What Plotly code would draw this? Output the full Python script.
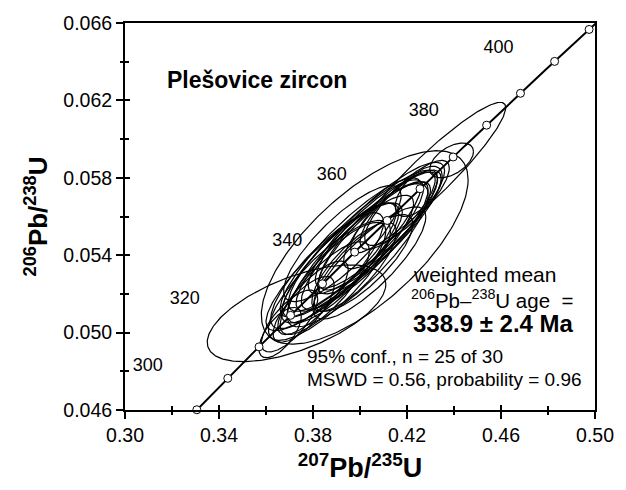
import numpy as np
import plotly.graph_objects as go

# ---- data ----
# error ellipses: centre, half-widths (2 sigma), error correlation
ell_x  = [0.3978, 0.3925, 0.4020, 0.3900, 0.4060, 0.3960, 0.3870, 0.4015, 0.3915, 0.4085,
          0.3850, 0.4000, 0.3975, 0.4040, 0.3890, 0.3925, 0.4040, 0.3990, 0.3860, 0.4070,
          0.3800, 0.3760, 0.3700, 0.3660, 0.3730, 0.4020, 0.4290, 0.4390, 0.4160, 0.4200,
          0.4250, 0.4130]
ell_y  = [0.0541, 0.0539, 0.0545, 0.0531, 0.0549, 0.0544, 0.0527, 0.0536, 0.0536, 0.0553,
          0.0523, 0.0546, 0.0534, 0.0551, 0.0534, 0.0546, 0.0536, 0.0540, 0.0532, 0.0554,
          0.0518, 0.0512, 0.0506, 0.0500, 0.0510, 0.0544, 0.0580, 0.0589, 0.0563, 0.0567,
          0.0573, 0.0558]
ell_sx = [0.025, 0.023, 0.027, 0.021, 0.024, 0.030, 0.026, 0.021, 0.025, 0.026,
          0.019, 0.033, 0.018, 0.023, 0.029, 0.025, 0.024, 0.030, 0.024, 0.029,
          0.015, 0.013, 0.012, 0.009, 0.038, 0.044, 0.033, 0.0093, 0.016, 0.018,
          0.010, 0.020]
ell_sy = [0.0030, 0.0028, 0.0033, 0.0026, 0.0029, 0.0036, 0.0031, 0.0025, 0.0031, 0.0031,
          0.0024, 0.0038, 0.0023, 0.0028, 0.0033, 0.0030, 0.0029, 0.0037, 0.0030, 0.0034,
          0.0019, 0.0017, 0.0016, 0.0013, 0.0025, 0.0050, 0.0039, 0.0009, 0.0020, 0.0022,
          0.0013, 0.0025]
ell_rho = [0.86, 0.84, 0.87, 0.82, 0.85, 0.88, 0.82, 0.80, 0.84, 0.86,
           0.80, 0.89, 0.78, 0.84, 0.86, 0.82, 0.82, 0.85, 0.83, 0.87,
           0.78, 0.74, 0.72, 0.65, 0.60, 0.70, 0.93, 0.50, 0.80, 0.82,
           0.60, 0.84]

# concordia
LAMBDA_238 = 1.55125e-10
LAMBDA_235 = 9.8485e-10
marker_ages = [290, 300, 310, 320, 330, 340, 350, 360, 370, 380, 390, 400, 410]  # Ma
label_ages = [300, 320, 340, 360, 380, 400]
label_x = [0.3097, 0.3254, 0.3690, 0.3880, 0.4271, 0.4589]
label_y = [0.04823, 0.05169, 0.05473, 0.05813, 0.06143, 0.06468]

x_ticks = [0.30, 0.34, 0.38, 0.42, 0.46, 0.50]
y_ticks = [0.046, 0.050, 0.054, 0.058, 0.062, 0.066]

FONT = "Liberation Sans, Arial, sans-serif"

fig = go.Figure()

theta = np.linspace(0, 2 * np.pi, 241)
for cx, cy, sx, sy, r in zip(ell_x, ell_y, ell_sx, ell_sy, ell_rho):
    ex = cx + sx * np.cos(theta)
    ey = cy + sy * (r * np.cos(theta) + np.sqrt(1 - r * r) * np.sin(theta))
    fig.add_trace(go.Scatter(x=ex, y=ey, mode="lines",
                             line=dict(color="black", width=1.2),
                             hoverinfo="skip", showlegend=False))

t_curve = np.linspace(280e6, 420e6, 300)
fig.add_trace(go.Scatter(x=np.exp(LAMBDA_235 * t_curve) - 1,
                         y=np.exp(LAMBDA_238 * t_curve) - 1,
                         mode="lines", line=dict(color="black", width=2),
                         showlegend=False, hoverinfo="skip"))
t_m = np.array(marker_ages) * 1e6
fig.add_trace(go.Scatter(x=np.exp(LAMBDA_235 * t_m) - 1,
                         y=np.exp(LAMBDA_238 * t_m) - 1,
                         mode="markers",
                         marker=dict(symbol="circle", size=8, color="white",
                                     line=dict(color="black", width=1)),
                         showlegend=False, cliponaxis=False, hoverinfo="skip"))

fig.add_trace(go.Scatter(x=label_x, y=label_y, mode="text",
                         text=[str(a) for a in label_ages],
                         textfont=dict(family=FONT, size=18, color="black"),
                         showlegend=False, hoverinfo="skip"))

ann = []
def add_text(x, y, text, size, bold=False, xanchor="left"):
    ann.append(dict(xref="paper", yref="paper", x=x, y=y,
                    text=("<b>%s</b>" % text) if bold else text,
                    showarrow=False, xanchor=xanchor, yanchor="middle",
                    font=dict(family=FONT, size=size, color="black")))

# paper coords: plot area left=125, right=597, top=18, bottom=412
def px(xp): return (xp - 125) / 472.0
def py(yp): return (412 - yp) / 394.0

add_text(px(165), py(76), "Plešovice zircon", 23, bold=True)
add_text(px(412), py(274), "weighted mean", 21)
add_text(px(410), py(299), "<sup>206</sup>Pb–<sup>238</sup>U age  =", 20.5)
add_text(px(412), py(324), "338.9 ± 2.4 Ma", 24, bold=True)
add_text(px(306), py(358), "95% conf., n = 25 of 30", 19)
add_text(px(306), py(381), "MSWD = 0.56, probability = 0.96", 19)

axis_common = dict(showline=True, linecolor="black", linewidth=2, mirror=True,
                   showgrid=False, zeroline=False, ticks="outside", ticklen=7,
                   tickwidth=2, tickcolor="black",
                   tickfont=dict(family=FONT, size=19.5, color="black"))

fig.update_layout(
    width=626, height=490,
    margin=dict(l=125, r=29, t=18, b=78),
    paper_bgcolor="white", plot_bgcolor="white",
    annotations=ann,
    xaxis=dict(range=[0.30, 0.50], tickvals=x_ticks,
               ticktext=["%.2f" % v for v in x_ticks],
               minor=dict(dtick=0.02, tick0=0.30, ticks="outside", ticklen=3,
                          tickwidth=2, tickcolor="black"),
               title=dict(text="<b><sup>207</sup>Pb/<sup>235</sup>U</b>",
                          font=dict(family=FONT, size=27, color="black"), standoff=13),
               **axis_common),
    yaxis=dict(range=[0.046, 0.066], tickvals=y_ticks,
               ticktext=["%.3f" % v for v in y_ticks],
               minor=dict(dtick=0.002, tick0=0.046, ticks="outside", ticklen=3,
                          tickwidth=2, tickcolor="black"),
               title=dict(text="<b><sup>206</sup>Pb/<sup>238</sup>U</b>",
                          font=dict(family=FONT, size=26, color="black"), standoff=8),
               **axis_common),
    xaxis2=dict(overlaying="x", matches="x", anchor="y", side="bottom",
                showline=False, showgrid=False, zeroline=False, showticklabels=False,
                tickvals=x_ticks, ticks="inside", ticklen=5, tickwidth=2, tickcolor="black",
                minor=dict(dtick=0.02, tick0=0.30, ticks="inside", ticklen=4,
                           tickwidth=2, tickcolor="black")),
    yaxis2=dict(overlaying="y", matches="y", anchor="x", side="left",
                showline=False, showgrid=False, zeroline=False, showticklabels=False,
                tickvals=y_ticks, ticks="inside", ticklen=5, tickwidth=2, tickcolor="black",
                minor=dict(dtick=0.002, tick0=0.046, ticks="inside", ticklen=4,
                           tickwidth=2, tickcolor="black")),
)
# an invisible trace on the overlay axes so their inner ticks are drawn
fig.add_trace(go.Scatter(x=[0.40], y=[0.056], xaxis="x2", yaxis="y2", mode="markers",
                         marker=dict(opacity=0), showlegend=False, hoverinfo="skip"))

fig.write_html("out.html")
